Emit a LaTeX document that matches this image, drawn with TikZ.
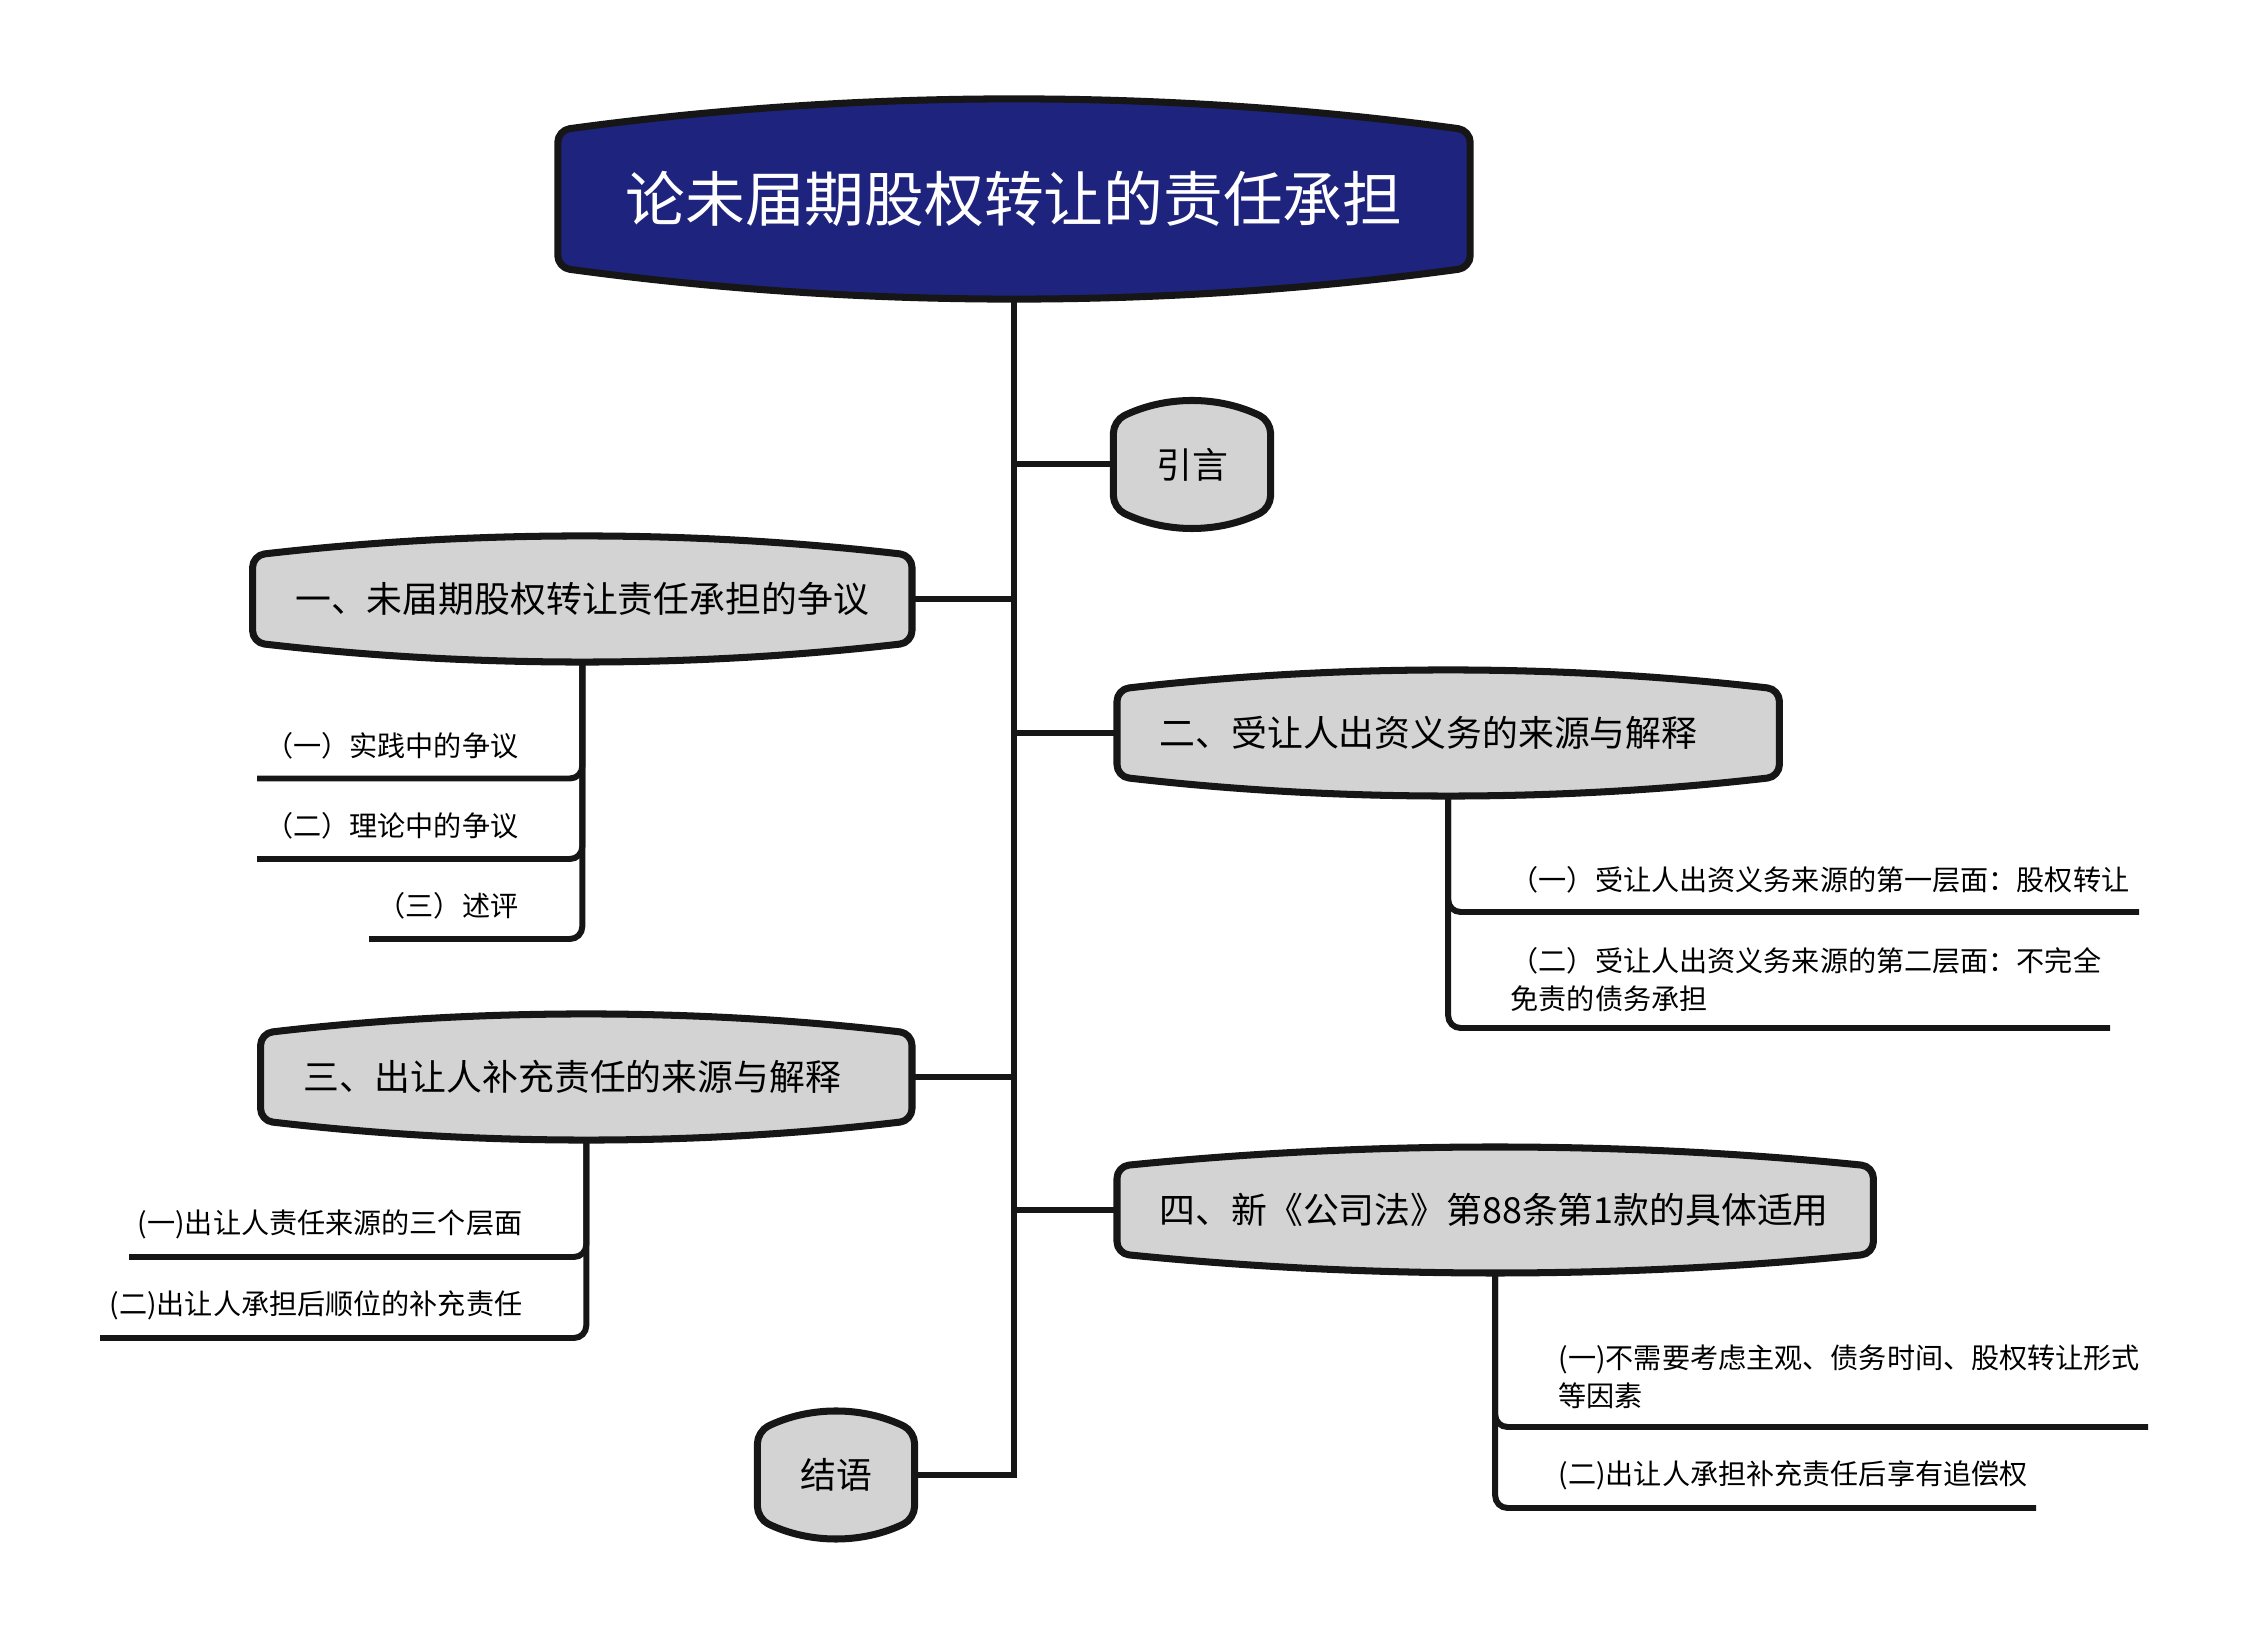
\documentclass[tikz,border=0pt]{standalone}
\usepackage{fontspec}
\setmainfont{Noto Sans CJK SC}
\usetikzlibrary{backgrounds,calc}
\definecolor{titlenavy}{RGB}{30,35,125}
\definecolor{boxgray}{RGB}{211,211,211}
\definecolor{rimblack}{RGB}{22,22,22}
\tikzset{
  rim/.style={draw=rimblack, line width=2pt, line join=round, rounded corners=0.12cm},
  stem/.style={draw=rimblack, line width=1.7pt},
  twig/.style={stem, rounded corners=3.5pt},
  topic/.style={minimum height=1.24cm, inner xsep=0.42cm, inner ysep=0pt, align=left, font=\fontsize{10.2}{12}\selectfont},
  leaf/.style={inner sep=0pt, align=left, font=\fontsize{8}{10.8}\selectfont}
}

\begin{document}
\begin{tikzpicture}
    \useasboundingbox (0,0) rectangle (22.48,-16.38);

    \node[minimum width=9.11cm, minimum height=1.98cm, text=white, font=\fontsize{17}{20}\selectfont] (root) at (10.14,-1.99) {论未届期股权转让的责任承担};

    \node[topic, minimum width=1.5cm] (b0) at (11.92,-4.645) {引言};
    \node[topic, text width=5.74cm, anchor=east] (b1) at (9.12,-5.99) {一、未届期股权转让责任承担的争议};
    \node[topic, text width=5.77cm, anchor=west] (b2) at (11.17,-7.33) {二、受让人出资义务的来源与解释};
    \node[topic, text width=5.66cm, anchor=east] (b3) at (9.12,-10.77) {三、出让人补充责任的来源与解释};
    \node[topic, text width=6.71cm, anchor=west] (b4) at (11.17,-12.10) {四、新《公司法》第88条第1款的具体适用};
    \node[topic, minimum width=1.52cm] (b5) at (8.36,-14.75) {结语};

    \begin{scope}[on background layer]
        \foreach \n/\d/\c in {root/0.31/titlenavy, b0/0.19/boxgray, b1/0.19/boxgray, b2/0.19/boxgray, b3/0.19/boxgray, b4/0.19/boxgray, b5/0.19/boxgray}
            \draw[rim, fill=\c] ($(\n.north west)+(0,-\d)$)
                .. controls ($(\n.north west)!0.333!(\n.north east)+(0,\d/3)$) and ($(\n.north west)!0.667!(\n.north east)+(0,\d/3)$) .. ($(\n.north east)+(0,-\d)$)
                -- ($(\n.south east)+(0,\d)$)
                .. controls ($(\n.south east)!0.333!(\n.south west)+(0,-\d/3)$) and ($(\n.south east)!0.667!(\n.south west)+(0,-\d/3)$) .. ($(\n.south west)+(0,\d)$)
                -- cycle;
    \end{scope}

    \draw[stem] (root.south) |- (b5.east);
    \draw[stem] (root.south |- b0.west) -- (b0.west);
    \draw[stem] (root.south |- b1.east) -- (b1.east);
    \draw[stem] (root.south |- b2.west) -- (b2.west);
    \draw[stem] (root.south |- b3.east) -- (b3.east);
    \draw[stem] (root.south |- b4.west) -- (b4.west);

    \node[leaf, anchor=east] (s11) at (5.19,-7.455) {（一）实践中的争议};
    \node[leaf, anchor=east] (s12) at (5.19,-8.26) {（二）理论中的争议};
    \node[leaf, anchor=east] (s13) at (5.19,-9.06) {（三）述评};
    \coordinate (u11) at (2.57,-7.785);
    \coordinate (u12) at (2.57,-8.59);
    \coordinate (u13) at (3.69,-9.39);
    \draw[twig] (b1.south) |- (u11);
    \draw[twig] (b1.south) |- (u12);
    \draw[twig] (b1.south) |- (u13);

    \node[leaf, anchor=west] (s21) at (15.10,-8.80) {（一）受让人出资义务来源的第一层面：股权转让};
    \node[leaf, anchor=west] (s22) at (15.10,-9.795) {（二）受让人出资义务来源的第二层面：不完全\\免责的债务承担};
    \coordinate (u21) at (21.39,-9.12);
    \coordinate (u22) at (21.10,-10.28);
    \draw[twig] (b2.south) |- (u21);
    \draw[twig] (b2.south) |- (u22);

    \node[leaf, anchor=east] (s31) at (5.23,-12.24) {(一)出让人责任来源的三个层面};
    \node[leaf, anchor=east] (s32) at (5.23,-13.05) {(二)出让人承担后顺位的补充责任};
    \coordinate (u31) at (1.29,-12.57);
    \coordinate (u32) at (1.00,-13.38);
    \draw[twig] (b3.south) |- (u31);
    \draw[twig] (b3.south) |- (u32);

    \node[leaf, anchor=west] (s41) at (15.58,-13.77) {(一)不需要考虑主观、债务时间、股权转让形式\\等因素};
    \node[leaf, anchor=west] (s42) at (15.58,-14.75) {(二)出让人承担补充责任后享有追偿权};
    \coordinate (u41) at (21.48,-14.27);
    \coordinate (u42) at (20.36,-15.08);
    \draw[twig] (b4.south) |- (u41);
    \draw[twig] (b4.south) |- (u42);
\end{tikzpicture}
\end{document}
